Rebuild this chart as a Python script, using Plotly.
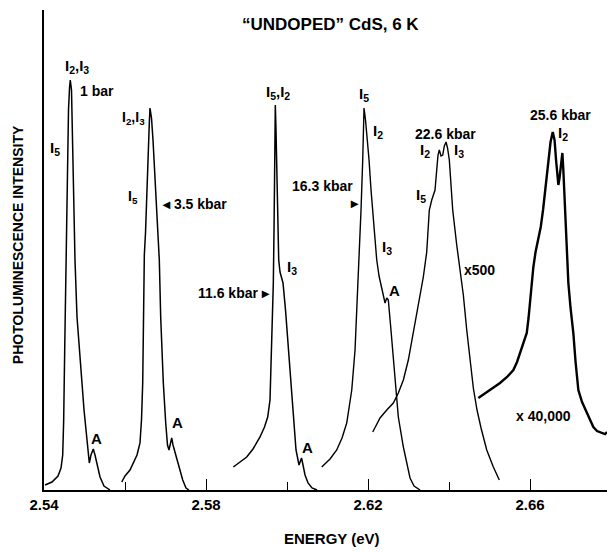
import plotly.graph_objects as go

# ---- data (energy in eV, PL intensity in arbitrary units) ----
e_1bar = [2.54025, 2.54198, 2.54346, 2.54420, 2.54462, 2.54486, 2.54511, 2.54536, 2.54560, 2.54585,
          2.54605, 2.54630, 2.54649, 2.54679, 2.54709, 2.54741, 2.54765, 2.54815, 2.54877, 2.54938,
          2.54988, 2.55037, 2.55079, 2.55119, 2.55160, 2.55217, 2.55259, 2.55309, 2.55383, 2.55481,
          2.55630]
i_1bar = [5, 8, 14, 22, 35, 70, 140, 210, 290, 340,
          380, 402, 410, 400, 330, 275, 230, 173, 135, 107,
          80, 57, 40, 27, 35, 41, 35, 25, 13, 4,
          0]

e_3p5 = [2.55919, 2.56000, 2.56123, 2.56205, 2.56296, 2.56370, 2.56407, 2.56437, 2.56457, 2.56477,
         2.56506, 2.56526, 2.56556, 2.56580, 2.56600, 2.56617, 2.56654, 2.56691, 2.56741, 2.56783,
         2.56815, 2.56847, 2.56881, 2.56946, 2.57005, 2.57049, 2.57086, 2.57123, 2.57153, 2.57185,
         2.57235, 2.57309, 2.57358, 2.57425, 2.57506, 2.57580]
i_3p5 = [8, 14, 20, 27, 35, 47, 70, 107, 170, 235,
         257, 285, 310, 340, 367, 382, 372, 350, 315, 285,
         255, 230, 173, 107, 67, 45, 40, 48, 52, 45,
         38, 25, 20, 10, 2, 0]

e_11p6 = [2.58674, 2.58840, 2.59005, 2.59160, 2.59333, 2.59444, 2.59523, 2.59580, 2.59622, 2.59662,
          2.59679, 2.59696, 2.59711, 2.59728, 2.59746, 2.59770, 2.59795, 2.59827, 2.59901, 2.59963,
          2.60032, 2.60099, 2.60156, 2.60222, 2.60296, 2.60358, 2.60395, 2.60444, 2.60519, 2.60617,
          2.60741]
i_11p6 = [23, 28, 33, 41, 53, 63, 73, 90, 140, 207,
          260, 330, 385, 360, 330, 270, 230, 218, 207, 180,
          140, 105, 73, 40, 25, 32, 25, 15, 7, 2,
          0]

e_16p3 = [2.60857, 2.61062, 2.61227, 2.61358, 2.61474, 2.61598, 2.61679, 2.61736, 2.61785, 2.61827,
          2.61869, 2.61901, 2.61938, 2.61975, 2.62025, 2.62074, 2.62116, 2.62173, 2.62215, 2.62272,
          2.62346, 2.62420, 2.62462, 2.62501, 2.62560, 2.62617, 2.62667, 2.62748, 2.62872, 2.62963,
          2.63037, 2.63136, 2.63284]
i_16p3 = [23, 31, 40, 52, 67, 100, 140, 190, 235, 280,
          330, 382, 370, 355, 330, 300, 280, 247, 230, 214,
          200, 187, 192, 190, 163, 135, 110, 73, 43, 24,
          12, 4, 0]

e_22p6 = [2.62116, 2.62198, 2.62296, 2.62462, 2.62625, 2.62748, 2.62872, 2.62995, 2.63119, 2.63242,
          2.63365, 2.63449, 2.63474, 2.63513, 2.63573, 2.63654, 2.63696, 2.63728, 2.63760, 2.63802,
          2.63844, 2.63884, 2.63926, 2.63963, 2.64007, 2.64091, 2.64190, 2.64272, 2.64353, 2.64437,
          2.64519, 2.64600, 2.64691, 2.64790, 2.64931, 2.65094, 2.65242]
i_22p6 = [58, 65, 72, 80, 87, 97, 110, 130, 157, 187,
          213, 238, 257, 280, 290, 300, 320, 335, 340, 334,
          335, 344, 348, 342, 330, 280, 245, 220, 195, 160,
          128, 102, 80, 62, 40, 23, 10]

e_25p6 = [2.64723, 2.64931, 2.65086, 2.65259, 2.65432, 2.65588, 2.65679, 2.65753, 2.65840, 2.65919,
          2.65963, 2.66000, 2.66042, 2.66082, 2.66136, 2.66198, 2.66264, 2.66321, 2.66370, 2.66452,
          2.66506, 2.66560, 2.66605, 2.66642, 2.66672, 2.66699, 2.66728, 2.66765, 2.66798, 2.66822,
          2.66847, 2.66872, 2.66906, 2.66946, 2.67000, 2.67069, 2.67124, 2.67193, 2.67284, 2.67400,
          2.67563, 2.67654, 2.67770, 2.67852, 2.67901]
i_25p6 = [92, 98, 102, 107, 113, 120, 128, 137, 147, 157,
          172, 190, 207, 223, 238, 250, 263, 280, 297, 330,
          348, 358, 350, 330, 315, 305, 312, 328, 337, 320,
          297, 263, 235, 207, 182, 157, 128, 100, 88, 77,
          63, 59, 57, 56, 58]

tick_vals = [2.54, 2.58, 2.62, 2.66]
tick_text = ["2.54", "2.58", "2.62", "2.66"]
minor_vals = [2.56, 2.60, 2.64]

FONT = "Liberation Sans, Arial, Helvetica, sans-serif"

fig = go.Figure()
series = [(e_1bar, i_1bar, 1.5), (e_3p5, i_3p5, 1.5), (e_11p6, i_11p6, 1.5),
          (e_16p3, i_16p3, 1.4), (e_22p6, i_22p6, 1.4), (e_25p6, i_25p6, 2.4)]
for ex, iy, w in series:
    fig.add_trace(go.Scatter(x=ex, y=iy, mode="lines", line=dict(color="black", width=w),
                             showlegend=False, hoverinfo="skip"))

ann = []
def lab(x, y, text, size=14, xanchor="center", yanchor="middle", bold=True):
    ann.append(dict(x=x, y=y, xref="x", yref="y", text=text, showarrow=False,
                    xanchor=xanchor, yanchor=yanchor,
                    font=dict(family=FONT, size=size, color="black",
                              weight="bold" if bold else "normal")))

lab(2.61062, 466, "\u201cUNDOPED\u201d CdS, 6 K", size=17)
lab(2.54815, 424, "I<sub>2</sub>,I<sub>3</sub>", size=15)
lab(2.54840, 399, "1 bar", size=14, xanchor="left")
lab(2.54272, 342, "I<sub>5</sub>", size=15)
lab(2.56198, 372, "I<sub>2</sub>,I<sub>3</sub>", size=14)
lab(2.56198, 293, "I<sub>5</sub>", size=14)
lab(2.56864, 286, "\u25C2 3.5 kbar", size=14, xanchor="left")
lab(2.59778, 398, "I<sub>5</sub>,I<sub>2</sub>", size=15)
lab(2.59630, 197, "11.6 kbar \u25B8", size=14, xanchor="right")
lab(2.60123, 223, "I<sub>3</sub>", size=15)
lab(2.55284, 52, "A", size=15)
lab(2.57284, 68, "A", size=15)
lab(2.60494, 43, "A", size=15)
lab(2.61679, 304, "16.3 kbar", size=14, xanchor="right")
lab(2.61654, 287, "\u25B8", size=14)
lab(2.61901, 396, "I<sub>5</sub>", size=15)
lab(2.62247, 359, "I<sub>2</sub>", size=15)
lab(2.62469, 243, "I<sub>3</sub>", size=15)
lab(2.62642, 200, "A", size=15)
lab(2.63901, 356, "22.6 kbar", size=14)
lab(2.63407, 340, "I<sub>2</sub>", size=15)
lab(2.64247, 340, "I<sub>3</sub>", size=15)
lab(2.63309, 295, "I<sub>5</sub>", size=15)
lab(2.64741, 220, "x500", size=14)
lab(2.66741, 375, "25.6 kbar", size=14)
lab(2.66815, 357, "I<sub>2</sub>", size=15)
lab(2.66321, 74, "x 40,000", size=14)

ann.append(dict(x=0, y=0.51, xref="paper", yref="paper", xshift=-26, textangle=-90,
                text="PHOTOLUMINESCENCE INTENSITY", showarrow=False,
                xanchor="center", yanchor="middle",
                font=dict(family=FONT, size=14, color="black", weight="bold")))
ann.append(dict(x=2.6111, y=0, xref="x", yref="paper", yshift=-48,
                text="ENERGY (eV)", showarrow=False, xanchor="center", yanchor="middle",
                font=dict(family=FONT, size=15, color="black", weight="bold")))

fig.update_layout(
    width=607, height=552,
    margin=dict(l=44, r=0, t=10, b=62),
    paper_bgcolor="white", plot_bgcolor="white",
    annotations=ann,
    xaxis=dict(range=[2.54, 2.679], showgrid=False, zeroline=False,
               showline=True, linecolor="black", linewidth=1.5,
               tickmode="array", tickvals=tick_vals, ticktext=tick_text,
               ticks="inside", ticklen=11, tickwidth=1.3, tickcolor="black",
               minor=dict(tickmode="array", tickvals=minor_vals, ticks="inside",
                          ticklen=8, tickwidth=1.3, tickcolor="black", showgrid=False),
               tickfont=dict(family=FONT, size=15, color="black", weight="bold")),
    yaxis=dict(range=[0, 480], showgrid=False, zeroline=False,
               showline=True, linecolor="black", linewidth=1.5,
               showticklabels=False, ticks=""),
)

fig.write_html("out.html")
